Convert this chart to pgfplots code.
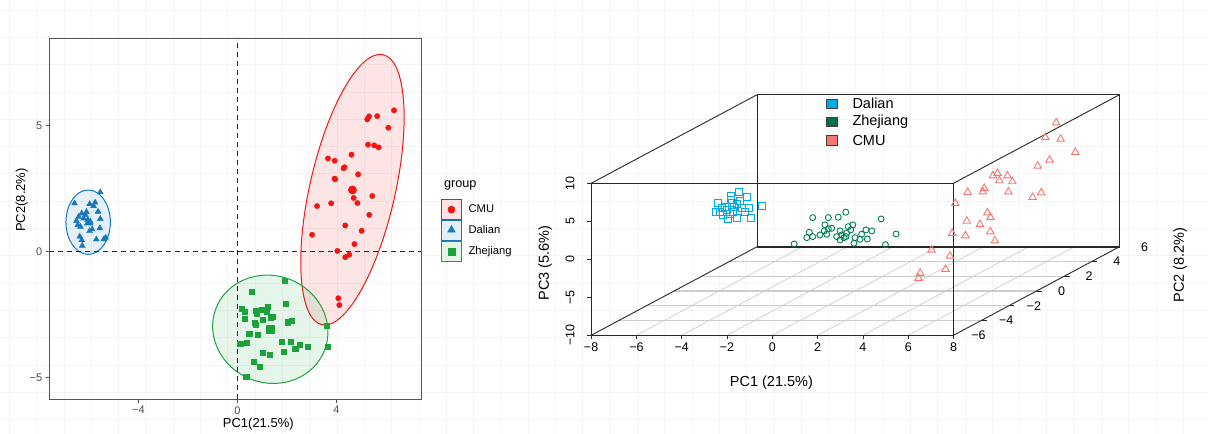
\documentclass[border=0pt]{standalone}
\usepackage{pgfplots}
\pgfplotsset{compat=1.18}
\usepackage{fontspec}
\setmainfont{Liberation Sans}
\definecolor{cmu}{RGB}{240,22,22}
\definecolor{dal}{RGB}{22,120,188}
\definecolor{zhe}{RGB}{28,162,58}
\definecolor{dal3}{RGB}{0,170,230}
\definecolor{zhe3}{RGB}{0,128,82}
\definecolor{cmu3}{RGB}{248,118,112}
\definecolor{zhe3key}{RGB}{0,112,74}
\definecolor{bordergray}{RGB}{85,85,85}
\definecolor{tickgray}{RGB}{77,77,77}
\definecolor{floorgray}{RGB}{205,205,205}
\definecolor{pagegrid}{RGB}{244,244,244}
\definecolor{boxline}{RGB}{40,40,40}

\begin{document}
\begin{tikzpicture}[x=1bp,y=1bp]
\path[use as bounding box] (0,0) rectangle (1208,-434);
\foreach \i in {0,...,44} {\draw[pagegrid,line width=0.6bp] ({9.3+27.3*\i},0) -- ({9.3+27.3*\i},-434);}
\foreach \j in {0,...,15} {\draw[pagegrid,line width=0.6bp] (0,{-10-27.3*\j}) -- (1208,{-10-27.3*\j});}

% ---------------- left panel ----------------
\begin{axis}[
  at={(49.3bp,-399.3bp)}, anchor=south west,
  width=371.7bp, height=361bp, scale only axis,
  xmin=-7.60, xmax=7.42, ymin=-5.86, ymax=8.47,
  axis line style={bordergray, line width=0.8bp},
  xtick={-4,0,4}, xticklabels={−4,0,4},
  ytick={-5,0,5}, yticklabels={−5,0,5},
  tick align=outside, major tick length=3.5bp, tick pos=left,
  tick style={bordergray, line width=0.7bp},
  ticklabel style={font=\fontsize{11bp}{13bp}\selectfont, text=tickgray},
  clip=false,
  legend style={at={(1.0538,0.5543)}, anchor=north west, draw=none, fill=none,
    inner sep=0pt, outer sep=0pt, row sep=0pt, column sep=6.7bp,
    nodes={inner sep=0pt, anchor=west}, font=\fontsize{11.2bp}{12bp}\selectfont},
]
\addlegendimage{legend image code/.code={
  \draw[cmu, fill=cmu!12, line width=0.9bp] (0bp,-10bp) rectangle (20bp,10bp);
  \path plot[mark=*, mark size=3.6bp, mark options={draw=cmu, fill=cmu}] coordinates {(10bp,0bp)};}}
\addlegendentry{CMU}
\addlegendimage{legend image code/.code={
  \draw[dal, fill=dal!12, line width=0.9bp] (0bp,-10bp) rectangle (20bp,10bp);
  \path plot[mark=triangle*, mark size=4.4bp, mark options={draw=dal, fill=dal}] coordinates {(10bp,0.6bp)};}}
\addlegendentry{Dalian}
\addlegendimage{legend image code/.code={
  \draw[zhe, fill=zhe!12, line width=0.9bp] (0bp,-10bp) rectangle (20bp,10bp);
  \path plot[mark=square*, mark size=3.3bp, mark options={draw=zhe, fill=zhe}] coordinates {(10bp,0bp)};}}
\addlegendentry{Zhejiang}

\draw[cmu, fill=cmu, fill opacity=0.11, line width=1bp, rotate around={77.2:(axis cs:4.65,2.46)}]
  (axis cs:4.65,2.46) ellipse [x radius=138.4bp, y radius=42.7bp];
\draw[zhe, fill=zhe, fill opacity=0.11, line width=1bp, rotate around={-20.5:(axis cs:1.33,-3.08)}]
  (axis cs:1.33,-3.08) ellipse [x radius=58.2bp, y radius=53.6bp];
\draw[dal, fill=dal, fill opacity=0.11, line width=1bp]
  (axis cs:-6.03,1.17) ellipse [x radius=22.2bp, y radius=32.2bp];

\draw[black!85, line width=1.1bp, dash pattern=on 5bp off 4bp] (axis cs:0,-5.86) -- (axis cs:0,8.47);
\draw[black!85, line width=1.1bp, dash pattern=on 5bp off 4bp] (axis cs:-7.60,0) -- (axis cs:7.42,0);

\addplot[forget plot, only marks, mark=*, mark size=2.7bp, cmu, mark options={draw=cmu, fill=cmu}] coordinates {
(6.33,5.61) (5.65,5.38) (5.32,5.37) (5.25,5.25) (6.10,4.92) (5.28,4.25) (5.53,4.22) (5.71,4.14)
(3.66,3.70) (3.93,3.61) (4.61,3.85) (4.29,3.31) (4.33,3.35) (4.88,3.07) (3.93,2.90) (4.70,2.13)
(5.45,2.21) (4.85,1.93) (3.79,1.92) (3.22,1.81) (5.33,1.46) (4.36,1.04) (5.02,0.83) (3.02,0.67)
(4.73,0.30) (4.04,0.03) (4.52,-0.12) (4.36,-0.22) (4.08,-1.85) (4.12,-2.12) (3.95,2.87)
};
\addplot[forget plot, only marks, mark=*, mark size=4.2bp, cmu, mark options={draw=cmu, fill=cmu}] coordinates {(4.65,2.45)};

\addplot[forget plot, only marks, mark=triangle*, mark size=3.4bp, dal, mark options={draw=dal, fill=dal}] coordinates {
(-5.54,2.36) (-6.58,1.92) (-5.97,1.89) (-5.75,1.95) (-5.81,1.81) (-5.63,1.59) (-6.29,1.52) (-6.10,1.58)
(-6.41,1.39) (-6.21,1.32) (-6.05,1.26) (-5.94,1.19) (-5.54,1.30) (-6.45,1.06) (-6.34,0.99) (-5.87,0.89)
(-5.97,0.82) (-5.56,0.93) (-6.37,0.60) (-6.29,0.46) (-6.27,0.24) (-5.70,0.49) (-5.40,0.49) (-5.32,0.56)
(-6.50,1.22) (-6.14,1.46)
};
\addplot[forget plot, only marks, mark=triangle*, mark size=5bp, dal, mark options={draw=dal, fill=dal}] coordinates {(-6.01,1.15)};

\addplot[forget plot, only marks, mark=square*, mark size=2.6bp, zhe, mark options={draw=zhe, fill=zhe}] coordinates {
(1.90,-1.16) (0.58,-1.59) (1.96,-2.05) (0.17,-2.26) (0.30,-2.37) (1.24,-2.18) (0.98,-2.31) (0.74,-2.35)
(0.79,-2.47) (1.18,-2.39) (0.28,-2.65) (1.43,-2.59) (1.35,-2.63) (1.02,-2.71) (0.70,-2.82) (0.73,-2.91)
(2.03,-2.80) (2.19,-2.74) (3.61,-2.95) (0.48,-3.27) (0.82,-3.29) (1.79,-3.58) (2.15,-3.57) (2.53,-3.69)
(2.34,-3.86) (2.84,-3.78) (0.38,-3.60) (0.11,-3.65) (3.65,-3.77) (1.88,-3.97) (1.02,-4.01) (1.29,-4.10)
(0.66,-4.38) (0.89,-4.56) (0.36,-4.96)
};
\addplot[forget plot, only marks, mark=square*, mark size=4bp, zhe, mark options={draw=zhe, fill=zhe}] coordinates {(1.32,-3.08)};
\end{axis}

\node[anchor=west, font=\fontsize{12.7bp}{14bp}\selectfont] at (440.5,-185.7) {group};
\node[font=\fontsize{13bp}{15bp}\selectfont] at (258.3,-424) {PC1(21.5\%)};
\node[rotate=90, font=\fontsize{13bp}{15bp}\selectfont] at (21.7,-200) {PC2(8.2\%)};

% ---------------- right panel (3D) ----------------
\begin{axis}[
  at={(855.3bp,-215.0bp)}, anchor=origin,
  x={(22.65bp,0bp)}, y={(13.83bp,7.38bp)}, z={(0bp,7.6bp)},
  xmin=-8, xmax=8, ymin=-6, ymax=6, zmin=-10, zmax=10,
  hide axis, clip=false,
]
% floor grid
\pgfplotsinvokeforeach{-6,-4,-2,0,2,4,6}{
  \draw[floorgray, line width=0.7bp] (axis cs:#1,-6,-10) -- (axis cs:#1,6,-10);}
\pgfplotsinvokeforeach{-4,-2,0,2,4}{
  \draw[floorgray, line width=1.3bp] (axis cs:-8,#1,-10) -- (axis cs:8,#1,-10);}
% box
\draw[boxline, line width=1.9bp] (axis cs:-8,6,-10) -- (axis cs:8,6,-10);
\draw[boxline, line width=0.9bp] (axis cs:-8,6,-10) -- (axis cs:-8,6,10) -- (axis cs:8,6,10) -- (axis cs:8,6,-10);
\draw[boxline, line width=0.9bp] (axis cs:-8,-6,-10) -- (axis cs:8,-6,-10) -- (axis cs:8,-6,10) -- (axis cs:-8,-6,10) -- cycle;
\draw[boxline, line width=0.9bp] (axis cs:-8,-6,10) -- (axis cs:-8,6,10);
\draw[boxline, line width=0.9bp] (axis cs:8,-6,10) -- (axis cs:8,6,10);
\draw[boxline, line width=0.9bp] (axis cs:-8,-6,-10) -- (axis cs:-8,6,-10);
\draw[boxline, line width=0.9bp] (axis cs:8,-6,-10) -- (axis cs:8,6,-10);
% ticks
\pgfplotsinvokeforeach{-8,-6,-4,-2,0,2,4,6,8}{
  \draw[boxline, line width=0.8bp] (axis cs:#1,-6,-10) -- ++(0bp,-4bp);}
\pgfplotsinvokeforeach{-4,-2,0,2,4}{
  \draw[boxline, line width=0.8bp] (axis cs:8,#1,-10) -- ++(5.5bp,0bp);}
\pgfplotsinvokeforeach{-10,-5,0,5,10}{
  \draw[boxline, line width=0.8bp] (axis cs:-8,-6,#1) -- ++(-4bp,0bp);}

\addplot3[only marks, mark=square, mark size=3.5bp, dal3, line width=0.9bp] coordinates {
(-5.85,1.2,1.83) (-5.53,1.2,1.17) (-6.22,1.2,1.38) (-6.78,1.2,0.38) (-6.23,1.2,0.82) (-5.82,1.2,0.68)
(-4.87,1.2,0.07) (-6.88,1.2,-0.80) (-6.63,1.2,-0.28) (-6.41,1.2,-0.50) (-6.09,1.2,-0.07) (-5.75,1.2,-0.28)
(-5.41,1.2,-0.28) (-6.56,1.2,-1.16) (-6.26,1.2,-1.07) (-5.94,1.2,-1.59) (-6.34,1.2,-1.68) (-5.35,1.2,-1.51)
(-5.60,1.2,-0.72) (-6.71,1.2,-0.72) (-6.12,1.2,-0.80) (-6.19,1.2,0.38) (-6.49,1.2,-0.07) (-5.97,1.2,0.25)
};
\addplot3[only marks, mark=o, mark size=3bp, zhe3, line width=0.9bp] coordinates {
(-0.05,-3,2.57) (0.64,-3,2.57) (1.08,-3,2.62) (1.41,-3,3.28) (2.97,-3,2.39) (3.63,-3,0.42)
(-0.87,-3,-0.89) (3.16,-3,-0.99) (-0.20,-3,0.64) (-0.31,-3,-0.07) (-0.05,-3,0.07) (0.27,-3,0.29)
(0.49,-3,1.61) (0.46,-3,0.82) (0.64,-3,1.08) (0.79,-3,1.17) (0.57,-3,0.38) (1.16,-3,0.82)
(1.23,-3,0.29) (1.33,-3,-0.07) (1.45,-3,0.51) (1.52,-3,1.38) (1.72,-3,1.61) (1.63,-3,0.95)
(1.82,-3,-0.07) (1.16,-3,-0.37) (1.77,-3,-0.80) (2.11,-3,0.38) (2.30,-3,0.95) (2.56,-3,0.82)
(2.36,-3,-0.24) (2.04,-3,-0.28) (1.01,-3,0.07) (1.42,-3,0.07)
};
\addplot3[only marks, mark=triangle, mark size=4.3bp, cmu3, line width=0.9bp] coordinates {
(5.82,5.00,7.29) (5.73,4.35,6.00) (6.46,4.27,5.86) (7.47,3.67,4.68) (6.55,3.32,4.01) (6.19,3.05,3.49)
(4.48,2.62,2.63) (4.61,2.73,2.84) (4.90,2.39,2.20) (5.12,2.62,2.63) (5.50,2.35,2.11) (5.60,1.90,1.22)
(7.08,1.85,1.14) (6.82,1.65,0.72) (4.44,2.05,1.53) (4.47,1.90,1.22) (3.82,1.87,1.17) (3.57,1.38,0.20)
(5.25,0.95,-0.62) (5.51,0.75,-1.03) (4.57,0.58,-1.36) (5.24,0.43,-1.64) (5.90,0.10,-2.29) (4.26,0.03,-2.43)
(4.91,-0.08,-2.64) (6.35,-0.31,-3.08) (3.81,-0.73,-3.89) (4.79,-1.00,-4.42) (4.96,-1.60,-5.59) (3.95,-1.78,-5.93)
(4.01,-2.00,-6.38)
};

% tick labels
\foreach \v/\t in {-8/−8,-6/−6,-4/−4,-2/−2,0/0,2/2,4/4,6/6,8/8}{
  \edef\tmp{\noexpand\node[font=\noexpand\fontsize{12.5bp}{14bp}\noexpand\selectfont, yshift=-11.6bp] at (axis cs:\v,-6,-10) {\t};}\tmp}
\foreach \v/\t in {-6/−6,-4/−4,-2/−2,0/0,2/2,4/4,6/6}{
  \edef\tmp{\noexpand\node[font=\noexpand\fontsize{12.5bp}{14bp}\noexpand\selectfont, xshift=25bp] at (axis cs:8,\v,-10) {\t};}\tmp}
\foreach \v/\t in {-10/−10,-5/−5,0/0,5/5,10/10}{
  \edef\tmp{\noexpand\node[xshift=-21bp, rotate=90, font=\noexpand\fontsize{12.5bp}{14bp}\noexpand\selectfont] at (axis cs:-8,-6,\v) {\t};}\tmp}
\end{axis}

\node[font=\fontsize{14.5bp}{16bp}\selectfont] at (771.4,-382.3) {PC1 (21.5\%)};
\node[rotate=90, font=\fontsize{14.5bp}{16bp}\selectfont] at (545,-263) {PC3 (5.6\%)};
\node[rotate=90, font=\fontsize{14.5bp}{16bp}\selectfont] at (1180,-265) {PC2 (8.2\%)};

% 3D legend
\draw[black!75, fill=dal3, line width=0.6bp] (826,-99.3) rectangle (837.3,-108.6);
\draw[black!75, fill=zhe3key, line width=0.6bp] (826,-117.4) rectangle (837.3,-126.7);
\draw[black!75, fill=cmu3, line width=0.6bp] (826,-135.7) rectangle (837.3,-145);
\node[anchor=west, font=\fontsize{14.5bp}{16bp}\selectfont] at (849,-103.8) {Dalian};
\node[anchor=west, font=\fontsize{14.5bp}{16bp}\selectfont] at (849,-122) {Zhejiang};
\node[anchor=west, font=\fontsize{14.5bp}{16bp}\selectfont] at (849,-140.3) {CMU};
\end{tikzpicture}
\end{document}
